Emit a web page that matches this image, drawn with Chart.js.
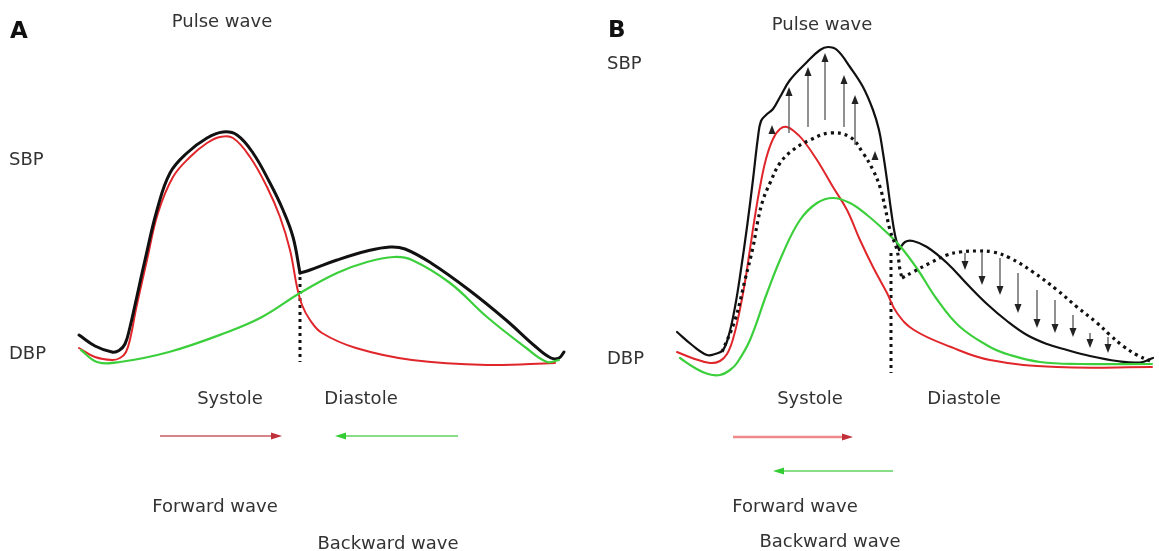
<!DOCTYPE html>
<html><head><meta charset="utf-8">
<script src="https://cdn.jsdelivr.net/npm/chart.js@4"></script>
<style>
html,body{margin:0;padding:0;background:#fff;width:1159px;height:551px;overflow:hidden;font-family:"DejaVu Sans",sans-serif;}
#wrap{position:relative;width:1159px;height:551px;}
canvas{position:absolute;top:0;}
.t{position:absolute;color:#333;font-size:18px;white-space:nowrap;transform:translate(-50%,-50%);}
.l{position:absolute;color:#333;font-size:18px;white-space:nowrap;transform:translate(0,-50%);}
.p{position:absolute;color:#111;font-size:23px;font-weight:bold;transform:translate(0,-50%);}
</style></head><body>
<div id="wrap">
<canvas id="ca" width="580" height="551" style="left:0"></canvas>
<canvas id="cb" width="579" height="551" style="left:580px"></canvas>
<div class="p" style="left:10px;top:30px">A</div>
<div class="t" style="left:222px;top:20px">Pulse wave</div>
<div class="l" style="left:9px;top:158px">SBP</div>
<div class="l" style="left:9px;top:352px">DBP</div>
<div class="t" style="left:230px;top:397px">Systole</div>
<div class="t" style="left:361px;top:397px">Diastole</div>
<div class="t" style="left:215px;top:505px">Forward wave</div>
<div class="t" style="left:388px;top:542px">Backward wave</div>
<div class="p" style="left:608px;top:29px">B</div>
<div class="t" style="left:822px;top:23px">Pulse wave</div>
<div class="l" style="left:607px;top:62px">SBP</div>
<div class="l" style="left:607px;top:357px">DBP</div>
<div class="t" style="left:810px;top:397px">Systole</div>
<div class="t" style="left:964px;top:397px">Diastole</div>
<div class="t" style="left:795px;top:505px">Forward wave</div>
<div class="t" style="left:830px;top:540px">Backward wave</div>
</div>
<script>
// time in ms, pressure in mmHg
const aBlackSys=[[0,83.4],[32,81.2],[66,80.0],[80,80.3],[92,81.6],[102,85.0],[112,89.4],[132,98.4],[156,108.4],[182,115.8],[216,119.8],[256,122.8],[288,124.0],[316,123.4],[348,119.8],[382,113.8],[408,108.4],[428,103.0],[442,95.8]];
const aBlackDia=[[442,95.8],[462,96.4],[516,98.4],[576,100.2],[622,101.0],[652,100.6],[704,97.8],[780,92.4],[854,86.4],[914,81.0],[944,78.8],[960,78.8],[970,80.0]];
const aRed=[[0,80.8],[32,79.0],[66,78.4],[82,78.8],[94,80.0],[104,83.4],[114,88.6],[136,98.4],[158,107.8],[188,115.0],[222,119.0],[256,121.8],[282,123.0],[308,122.8],[342,119.0],[376,113.0],[402,107.0],[422,100.4],[436,93.0],[446,89.4],[462,86.4],[486,83.8],[554,80.8],[666,78.4],[816,77.4],[952,77.8]];
const aGreen=[[4,80.4],[36,78.0],[82,78.0],[180,80.0],[292,83.8],[366,87.0],[442,91.8],[516,95.8],[576,98.0],[630,99.0],[666,98.4],[742,93.8],[816,87.0],[892,81.0],[936,78.0],[960,78.4]];
const aSplit=[[442,95.0],[442,78.0]];
// [start time, end time, level, kind]
const aWaveArrows=[[162,406,63.2,'fwd'],[758,512,63.2,'bwd']];

const bBlackSys=[[0,85.0],[30,82.4],[60,80.4],[76,80.6],[92,81.4],[104,84.5],[116,90.0],[128,97.5],[140,106.0],[152,115.5],[162,124.0],[168,127.2],[178,128.4],[192,129.6],[206,132.0],[226,135.4],[260,139.0],[286,141.4],[302,142.0],[320,141.4],[346,138.0],[372,134.0],[392,129.4],[404,125.4],[412,120.8],[420,115.4],[428,109.4],[436,104.4],[444,101.4]];
const bBlackDia=[[444,101.4],[456,103.0],[472,103.2],[500,102.0],[540,98.8],[580,94.6],[620,90.6],[660,87.2],[700,84.4],[740,82.6],[780,81.4],[826,80.2],[880,79.2],[926,78.9],[952,79.8]];
const bDottedSys=[[90,81.0],[116,87.4],[136,95.4],[152,102.0],[162,107.4],[172,111.4],[186,114.8],[206,118.8],[232,121.4],[266,123.4],[306,124.8],[346,124.0],[372,120.8],[392,117.4],[406,114.0],[416,110.0],[426,105.4],[440,101.4],[446,97.4],[450,95.8]];
const bDottedDia=[[450,95.8],[472,97.0],[506,98.8],[540,100.4],[566,101.0],[600,101.2],[632,101.0],[666,99.8],[712,97.0],[760,93.4],[800,90.0],[840,86.8],[866,84.4],[892,82.2],[920,80.4],[946,79.2]];
const bRed=[[0,81.0],[30,79.8],[66,78.8],[86,79.2],[100,80.6],[112,83.6],[124,88.6],[136,95.0],[146,101.6],[156,108.2],[166,114.0],[178,119.6],[192,123.6],[206,125.6],[220,126.0],[236,125.0],[252,123.4],[280,119.4],[312,114.0],[340,109.4],[366,103.4],[392,98.0],[420,92.8],[440,88.8],[474,85.4],[548,82.0],[626,79.4],[760,78.0],[950,78.0]];
const bGreen=[[6,79.8],[36,77.8],[62,76.6],[86,76.4],[106,77.4],[120,78.8],[146,83.4],[180,92.8],[212,100.8],[246,107.4],[280,110.8],[312,111.8],[346,110.8],[380,108.4],[412,105.6],[446,102.2],[482,97.4],[518,91.8],[564,86.2],[626,82.0],[666,80.4],[726,79.0],[806,78.6],[950,78.6]];
const bSplit=[[428,100.8],[428,76.8]];
// [time, tail pressure, head pressure]
const bUpArrows=[[190,124.8,126.4],[224,124.8,134.0],[262,126.0,138.0],[296,127.4,140.8],[334,126.0,136.4],[356,122.4,132.4],[396,119.4,121.2]];
const bDownArrows=[[576,100.8,97.4],[610,101.0,94.4],[646,99.8,92.4],[682,96.8,88.8],[720,93.4,85.8],[756,91.4,84.8],[792,88.4,84.0],[826,84.8,81.8],[862,84.0,80.8]];
const bWaveArrows=[[112,352,64.0,'fwd'],[432,192,57.2,'bwd']];

const pts=a=>a.map(([x,y])=>({x,y}));

function head(ctx,x,y,ang,len,wid,color){
  ctx.save();ctx.fillStyle=color;ctx.translate(x,y);ctx.rotate(ang);
  ctx.beginPath();ctx.moveTo(0,0);ctx.lineTo(-len,-wid/2);ctx.lineTo(-len,wid/2);ctx.closePath();ctx.fill();ctx.restore();
}
const arrowPlugin={id:'arrows',afterDatasetsDraw(chart,args,opts){
  const ctx=chart.ctx,xs=chart.scales.x,ys=chart.scales.y;
  ctx.save();
  (opts.vertical||[]).forEach(([t,p1,p2])=>{
    const x=xs.getPixelForValue(t),y1=ys.getPixelForValue(p1),y2=ys.getPixelForValue(p2);
    const dir=y2<y1?-1:1;
    ctx.strokeStyle='#555';ctx.lineWidth=1.3;ctx.beginPath();ctx.moveTo(x,y1);ctx.lineTo(x,y2-dir*6);ctx.stroke();
    head(ctx,x,y2,dir<0?-Math.PI/2:Math.PI/2,9,7,'#222');
  });
  (opts.wave||[]).forEach(([t1,t2,p,kind])=>{
    const x1=xs.getPixelForValue(t1),x2=xs.getPixelForValue(t2),y=ys.getPixelForValue(p);
    const lc=kind==='fwd'?opts.fwdLine:'#5fd35f', hc=kind==='fwd'?'#c0303a':'#33cc33';
    const dir=x2>x1?1:-1;
    ctx.strokeStyle=lc;ctx.lineWidth=kind==='fwd'?opts.fwdWidth:1.5;ctx.beginPath();ctx.moveTo(x1,y);ctx.lineTo(x2-dir*8,y);ctx.stroke();
    head(ctx,x2,y,dir>0?0:Math.PI,11,7,hc);
  });
  ctx.restore();
}};

function makeChart(id,sets,xmin,xmax,ymin,ymax,arrowOpts){
  return new Chart(document.getElementById(id),{
    type:'line',
    data:{datasets:sets},
    options:{responsive:false,animation:false,events:[],
      layout:{padding:0},
      elements:{point:{radius:0}},
      scales:{x:{type:'linear',min:xmin,max:xmax,display:false},y:{type:'linear',min:ymin,max:ymax,display:false}},
      plugins:{legend:{display:false},tooltip:{enabled:false},arrows:arrowOpts}
    },
    plugins:[arrowPlugin]
  });
}
const ds=(data,color,w,extra)=>Object.assign({data:pts(data),borderColor:color,borderWidth:w,fill:false,tension:0.4,pointRadius:0,borderJoinStyle:'round',borderCapStyle:'round'},extra||{});
const dot={borderDash:[3,4],borderCapStyle:'butt'};

makeChart('ca',[
  ds(aGreen,'#3ccf3c',2.2),
  ds(aBlackSys,'#111',3),
  ds(aBlackDia,'#111',3),
  ds(aRed,'#e0262b',2),
  ds(aSplit,'#111',3,Object.assign({tension:0},dot))
],-158,1002,40.2,150.4,{wave:aWaveArrows,fwdLine:'#c85a62',fwdWidth:1.5});

makeChart('cb',[
  ds(bDottedSys,'#111',3.2,dot),
  ds(bDottedDia,'#111',3.2,dot),
  ds(bGreen,'#3ccf3c',2.2),
  ds(bRed,'#e0262b',2),
  ds(bBlackSys,'#111',2.2),
  ds(bBlackDia,'#111',2.2),
  ds(bSplit,'#111',3,Object.assign({tension:0},dot))
],-194,964,41.2,151.4,{vertical:bUpArrows.concat(bDownArrows),wave:bWaveArrows,fwdLine:'#f08a8a',fwdWidth:2.5});
</script>
</body></html>
